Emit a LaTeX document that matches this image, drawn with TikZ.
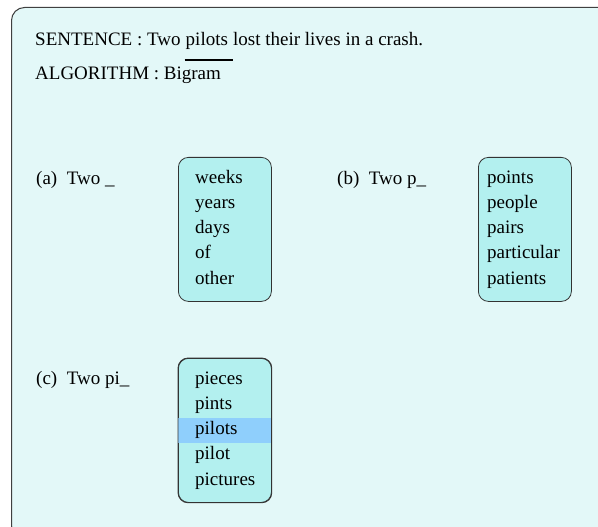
\documentclass[tikz,border=0pt]{standalone}
\usepackage{fontspec}
\setmainfont{Liberation Serif}
\begin{document}
\begin{tikzpicture}[x=1pt,y=-1pt,
  panel/.style={draw=black!75,line width=1pt,fill=panelfill,rounded corners=13pt},
  listbox/.style={draw=black!80,line width=0.8pt,fill=boxfill,rounded corners=10pt,
    minimum width=93pt,minimum height=144pt,inner sep=0pt},
  txt/.style={anchor=base west,inner sep=0pt,font=\fontsize{19}{25.3}\selectfont},
]
\definecolor{panelfill}{HTML}{E3F8F8}
\definecolor{boxfill}{HTML}{B3F0EF}
\definecolor{pick}{HTML}{8FCFFC}
\useasboundingbox (0,0) rectangle (598,527);
\clip (0,0) rectangle (598,527);
% outer panel, running past the right and bottom edges
\node[panel,minimum width=620pt,minimum height=531pt,anchor=north west,inner sep=0pt] (panel) at (11,7) {};

% heading lines; the target word is set apart so it can be underlined
\node[txt] (sentA) at (35,46) {SENTENCE : Two};
\node[txt] (word) at ([xshift=4.75pt]sentA.base east) {pilots};
\node[txt] (sentB) at ([xshift=4.75pt]word.base east) {lost their lives in a crash.};
\coordinate (ulA) at ([xshift=-1pt,yshift=-14pt]word.base west);
\coordinate (ulB) at ([xshift=5pt,yshift=-14pt]word.base east);
\draw[line width=1.1pt] (ulA) -- (ulB);
\node[txt] (algo) at (35,80) {ALGORITHM : Bigram};

% prompts
\node[txt] (qa) at (36,184) {(a)\enspace Two \_};
\node[txt] (qb) at (337,184) {(b)\enspace Two p\_};
\node[txt] (qc) at (36,384) {(c)\enspace Two pi\_};

% candidate boxes
\node[listbox,anchor=north west] (boxa) at (178,157) {};
\node[listbox,anchor=north west] (boxb) at (478,157) {};
\node[listbox,anchor=north west] (boxc) at (178,358) {};

% selected candidate band
\begin{scope}
  \clip[rounded corners=10pt] (boxc.north west) rectangle (boxc.south east);
  \fill[pick] (178,418) rectangle (271,443);
\end{scope}
\draw[draw=black!80,line width=0.8pt,rounded corners=10pt] (boxc.north west) rectangle (boxc.south east);

% candidate words
\foreach \w [count=\i] in {weeks,years,days,of,other}
  \node[txt] (a\i) at (195,{183+25.3*(\i-1)}) {\w};
\foreach \w [count=\i] in {points,people,pairs,particular,patients}
  \node[txt] (b\i) at (487,{183+25.3*(\i-1)}) {\w};
\foreach \w [count=\i] in {pieces,pints,pilots,pilot,pictures}
  \node[txt] (c\i) at (195,{384+25.3*(\i-1)}) {\w};
\end{tikzpicture}
\end{document}
